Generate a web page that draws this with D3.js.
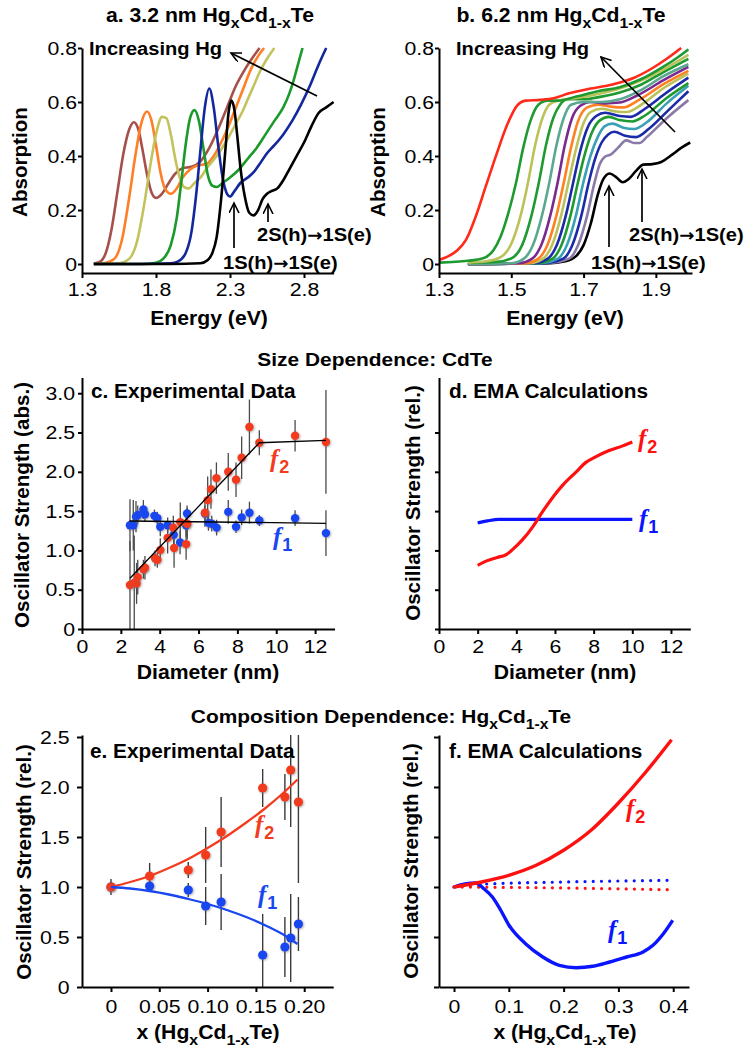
<!DOCTYPE html>
<html><head><meta charset="utf-8">
<script src="https://cdn.jsdelivr.net/npm/d3@7"></script>
<style>body{margin:0;background:#fff}</style>
</head><body><svg id="chart"></svg>
<script>
// ---------------- DATA ----------------
// Panel a: 3.2 nm HgxCd1-xTe absorption spectra [energy eV, absorption]
const aBrown=[[1.38,0.002],[1.42,0.008],[1.46,0.04],[1.50,0.13],[1.54,0.27],[1.58,0.41],[1.62,0.50],[1.65,0.525],[1.68,0.50],[1.71,0.42],[1.74,0.33],[1.77,0.265],[1.80,0.245],[1.84,0.26],[1.88,0.295],[1.93,0.335],[1.98,0.355],[2.04,0.36],[2.10,0.38],[2.16,0.43],[2.22,0.50],[2.28,0.58],[2.34,0.66],[2.40,0.72],[2.46,0.77],[2.50,0.80]];
const aOrange=[[1.38,0],[1.45,0.003],[1.52,0.02],[1.57,0.09],[1.62,0.25],[1.66,0.40],[1.70,0.52],[1.74,0.565],[1.77,0.53],[1.80,0.44],[1.83,0.34],[1.86,0.28],[1.90,0.26],[1.94,0.28],[1.98,0.32],[2.03,0.35],[2.08,0.365],[2.14,0.37],[2.19,0.40],[2.24,0.45],[2.29,0.51],[2.34,0.58],[2.39,0.65],[2.44,0.72],[2.49,0.77],[2.53,0.80]];
const aKhaki=[[1.38,0],[1.55,0.003],[1.62,0.02],[1.67,0.08],[1.72,0.22],[1.76,0.36],[1.80,0.48],[1.84,0.545],[1.87,0.54],[1.90,0.48],[1.93,0.39],[1.96,0.32],[1.99,0.285],[2.02,0.28],[2.06,0.30],[2.10,0.32],[2.15,0.36],[2.21,0.40],[2.27,0.45],[2.33,0.51],[2.38,0.56],[2.42,0.61],[2.46,0.66],[2.50,0.71],[2.55,0.76],[2.60,0.80]];
const aGreen=[[1.38,0],[1.70,0],[1.80,0.005],[1.85,0.02],[1.90,0.07],[1.94,0.17],[1.97,0.30],[2.00,0.44],[2.03,0.54],[2.06,0.57],[2.09,0.53],[2.12,0.43],[2.15,0.33],[2.18,0.29],[2.21,0.285],[2.25,0.30],[2.30,0.32],[2.36,0.35],[2.42,0.39],[2.48,0.43],[2.54,0.48],[2.60,0.53],[2.66,0.58],[2.70,0.63],[2.73,0.68],[2.76,0.74],[2.79,0.80]];
const aBlue=[[1.38,0],[1.70,0],[1.90,0.003],[1.95,0.01],[2.00,0.04],[2.04,0.12],[2.07,0.25],[2.10,0.42],[2.13,0.58],[2.16,0.65],[2.19,0.58],[2.22,0.44],[2.25,0.32],[2.28,0.26],[2.30,0.25],[2.33,0.27],[2.37,0.30],[2.42,0.32],[2.46,0.34],[2.50,0.37],[2.55,0.41],[2.60,0.44],[2.66,0.48],[2.72,0.53],[2.78,0.59],[2.84,0.66],[2.90,0.74],[2.95,0.80]];
const aBlack=[[1.38,0],[1.60,0],[1.90,0],[2.10,0.003],[2.15,0.015],[2.18,0.04],[2.21,0.10],[2.24,0.24],[2.27,0.43],[2.29,0.56],[2.31,0.605],[2.33,0.57],[2.35,0.47],[2.37,0.36],[2.40,0.25],[2.43,0.19],[2.46,0.18],[2.49,0.20],[2.52,0.24],[2.55,0.26],[2.58,0.27],[2.62,0.28],[2.66,0.31],[2.70,0.35],[2.75,0.40],[2.80,0.45],[2.85,0.51],[2.90,0.56],[2.95,0.58],[3.0,0.60]];
const aSeries=[aBrown,aOrange,aKhaki,aGreen,aBlue,aBlack];
const aColors=["#a5504a","#ff7f27","#c3c35e","#1a9a2a","#14289e","#000000"];
const aXTicks=[1.3,1.8,2.3,2.8];
const abYTicks=[0,0.2,0.4,0.6,0.8];

// Panel b: 6.2 nm HgxCd1-xTe absorption spectra
const bRed=[[1.30,0.015],[1.325,0.028],[1.35,0.05],[1.375,0.09],[1.40,0.17],[1.43,0.29],[1.46,0.41],[1.49,0.52],[1.515,0.585],[1.54,0.605],[1.58,0.608],[1.62,0.615],[1.66,0.632],[1.72,0.65],[1.78,0.665],[1.84,0.69],[1.89,0.725],[1.93,0.76],[1.97,0.80]];
const bGreen1=[[1.30,0.005],[1.38,0.012],[1.42,0.02],[1.45,0.05],[1.47,0.10],[1.49,0.18],[1.513,0.30],[1.533,0.43],[1.553,0.53],[1.575,0.59],[1.60,0.605],[1.63,0.605],[1.68,0.62],[1.74,0.64],[1.80,0.655],[1.86,0.685],[1.92,0.73],[1.96,0.765],[1.99,0.795]];
const bKhaki1=[[1.38,0.005],[1.43,0.01],[1.47,0.025],[1.50,0.075],[1.526,0.18],[1.546,0.30],[1.566,0.44],[1.586,0.54],[1.605,0.59],[1.63,0.605],[1.68,0.615],[1.74,0.63],[1.80,0.65],[1.86,0.68],[1.92,0.72],[1.99,0.775]];
const bGreen2=[[1.38,0.005],[1.46,0.008],[1.505,0.025],[1.53,0.07],[1.556,0.18],[1.576,0.30],[1.596,0.44],[1.616,0.54],[1.635,0.59],[1.655,0.61],[1.70,0.61],[1.75,0.62],[1.80,0.635],[1.86,0.665],[1.92,0.71],[1.99,0.76]];
const bSea=[[1.38,0],[1.50,0.003],[1.535,0.02],[1.56,0.07],[1.585,0.18],[1.605,0.30],[1.625,0.44],[1.645,0.54],[1.665,0.59],[1.70,0.60],[1.75,0.60],[1.80,0.61],[1.86,0.645],[1.92,0.695],[1.99,0.74]];
const bPurple=[[1.38,0],[1.52,0.003],[1.558,0.02],[1.583,0.07],[1.608,0.18],[1.628,0.30],[1.648,0.44],[1.668,0.54],[1.69,0.585],[1.72,0.60],[1.76,0.595],[1.80,0.598],[1.85,0.625],[1.92,0.68],[1.99,0.73]];
const bOrange=[[1.38,0],[1.54,0.003],[1.575,0.02],[1.60,0.07],[1.625,0.18],[1.645,0.30],[1.665,0.43],[1.685,0.53],[1.71,0.58],[1.74,0.59],[1.78,0.582],[1.81,0.58],[1.85,0.605],[1.92,0.665],[1.99,0.715]];
const bKhaki2=[[1.38,0],[1.55,0.003],[1.588,0.02],[1.613,0.07],[1.638,0.18],[1.658,0.30],[1.678,0.42],[1.698,0.515],[1.72,0.563],[1.75,0.575],[1.79,0.565],[1.82,0.563],[1.86,0.59],[1.92,0.65],[1.99,0.705]];
const bBlue1=[[1.38,0],[1.56,0.003],[1.601,0.02],[1.626,0.07],[1.651,0.18],[1.671,0.30],[1.691,0.42],[1.711,0.505],[1.735,0.548],[1.76,0.56],[1.80,0.548],[1.83,0.545],[1.87,0.575],[1.93,0.635],[1.99,0.69]];
const bGreen3=[[1.38,0],[1.57,0.003],[1.614,0.02],[1.639,0.07],[1.664,0.18],[1.684,0.30],[1.704,0.41],[1.724,0.49],[1.745,0.532],[1.77,0.545],[1.80,0.533],[1.835,0.528],[1.87,0.55],[1.93,0.615],[1.99,0.67]];
const bTeal=[[1.38,0],[1.58,0.003],[1.629,0.02],[1.654,0.07],[1.679,0.18],[1.699,0.30],[1.719,0.40],[1.739,0.47],[1.758,0.51],[1.78,0.52],[1.81,0.505],[1.84,0.50],[1.875,0.525],[1.93,0.595],[1.99,0.66]];
const bBlue2=[[1.38,0],[1.59,0.003],[1.644,0.02],[1.669,0.07],[1.694,0.18],[1.714,0.30],[1.732,0.39],[1.75,0.45],[1.768,0.48],[1.785,0.49],[1.815,0.475],[1.845,0.47],[1.88,0.50],[1.935,0.57],[1.99,0.64]];
const bLavender=[[1.38,0],[1.60,0.003],[1.66,0.02],[1.685,0.07],[1.71,0.18],[1.73,0.30],[1.745,0.37],[1.76,0.398],[1.775,0.405],[1.795,0.43],[1.818,0.458],[1.84,0.448],[1.855,0.448],[1.875,0.47],[1.93,0.54],[1.99,0.607]];
const bBlack=[[1.38,0],[1.60,0.002],[1.65,0.01],[1.68,0.03],[1.70,0.07],[1.72,0.15],[1.74,0.26],[1.755,0.315],[1.772,0.335],[1.79,0.322],[1.808,0.303],[1.825,0.315],[1.845,0.345],[1.865,0.368],[1.89,0.37],[1.915,0.378],[1.945,0.405],[1.97,0.43],[1.995,0.45]];
const bSeries=[bBlack,bLavender,bBlue2,bTeal,bGreen3,bBlue1,bKhaki2,bOrange,bPurple,bSea,bGreen2,bKhaki1,bGreen1,bRed];
const bColors=["#000000","#8a7aa8","#1a2aa8","#3aa0b8","#1f9a30","#1a2aa8","#bcc25a","#ff8020","#7a2a8e","#5aa890","#1f9a30","#bcc25a","#1f9a30","#ff2a1a"];
const bXTicks=[1.3,1.5,1.7,1.9];

// Panel c: experimental oscillator strength vs diameter
const cDiamF2=[2.47,2.69,2.81,2.87,3.16,3.24,3.76,3.88,4.03,4.41,4.70,4.74,5.06,5.36,5.42,6.33,6.47,6.64,6.92,7.53,7.93,8.22,8.62,9.13,10.97,12.56];
const cF2=[0.56,0.59,0.58,0.66,0.76,0.78,0.90,0.88,1.005,1.16,1.29,1.03,1.36,1.08,1.34,1.48,1.64,1.78,1.92,2.00,1.90,2.18,2.57,2.37,2.46,2.38];
const cF2Err=[0.56,0.6,0.26,0.22,0.12,0.15,0.1,0.1,0.15,0.2,0.15,0.25,0.25,0.2,0.2,0.18,0.3,0.25,0.2,0.24,0.22,0.27,0.35,0.16,0.2,0.66];
const cDiamF1=[2.47,2.64,2.78,2.87,3.16,3.24,3.73,3.88,4.03,4.41,4.72,5.05,5.36,5.41,6.33,6.51,6.68,6.93,7.53,7.93,8.22,8.62,9.13,10.97,12.56];
const cF1=[1.32,1.32,1.43,1.45,1.52,1.46,1.44,1.41,1.30,1.32,1.20,1.10,1.32,1.47,1.47,1.35,1.34,1.29,1.49,1.30,1.42,1.48,1.38,1.41,1.22];
const cF1Err=[0.33,0.32,0.2,0.12,0.12,0.1,0.08,0.08,0.12,0.1,0.15,0.15,0.15,0.1,0.1,0.1,0.1,0.1,0.15,0.08,0.1,0.14,0.07,0.1,0.29];
const cFitF2=[[2.47,0.645],[9.13,2.37],[12.56,2.40]];
const cFitF1=[[2.44,1.374],[12.56,1.345]];
const cdXTicks=[0,2,4,6,8,10,12];
const cYTicks=[0,0.5,1.0,1.5,2.0,2.5,3.0];
const dYTicks=[0,0.5,1.0,1.5,2.0,2.5];

// Panel d: EMA calculation vs diameter
const dF2=[[2,0.81],[2.5,0.87],[3,0.91],[3.5,0.95],[3.8,1.01],[4.3,1.13],[4.85,1.30],[5.35,1.49],[5.9,1.68],[6.4,1.83],[7.1,2.00],[7.6,2.12],[8.1,2.19],[8.8,2.27],[9.5,2.33],[10,2.38]];
const dF1=[[2,1.35],[2.5,1.375],[3.1,1.395],[4,1.395],[6,1.395],[8,1.395],[10,1.395]];

// Panel e: experimental vs composition
const eX=[0,0.04,0.08,0.098,0.114,0.157,0.180,0.186,0.194];
const eF2=[1.0,1.11,1.17,1.32,1.55,1.99,1.90,2.17,1.85];
const eF2Err=[0.08,0.13,0.08,0.28,0.35,0.19,0.23,0.57,0.81];
const eF1=[1.0,1.01,0.97,0.81,0.85,0.32,0.40,0.49,0.63];
const eF1Err=[0.05,0.06,0.07,0.19,0.28,0.41,0.30,0.44,0.27];
const eFitX=[0,0.02,0.04,0.06,0.08,0.10,0.12,0.14,0.16,0.18,0.193];
const eFitF2=[1.00,1.05,1.11,1.19,1.28,1.39,1.51,1.645,1.79,1.955,2.075];
const eFitF1=[1.0,0.985,0.96,0.925,0.88,0.83,0.77,0.70,0.615,0.515,0.43];
const eXTicks=[0,0.05,0.10,0.15,0.20];
const efYTicks=[0,0.5,1.0,1.5,2.0,2.5];

// Panel f: EMA calculation vs composition
const fF2=[[0,1.0],[0.05,1.05],[0.1,1.117],[0.15,1.217],[0.2,1.367],[0.25,1.567],[0.3,1.84],[0.35,2.15],[0.397,2.473]];
const fF1=[[0,1.0],[0.02,1.03],[0.04,1.04],[0.055,0.98],[0.07,0.90],[0.085,0.77],[0.1,0.62],[0.131,0.43],[0.162,0.30],[0.192,0.217],[0.223,0.193],[0.253,0.207],[0.284,0.25],[0.315,0.30],[0.345,0.35],[0.363,0.417],[0.382,0.533],[0.399,0.667]];
const fF1dot=[[0,1.0],[0.05,1.027],[0.2,1.05],[0.4,1.067]];
const fF2dot=[[0,1.0],[0.2,0.99],[0.4,0.972]];
const fXTicks=[0,0.1,0.2,0.3,0.4];

// ---------------- DRAWING ----------------
const FONT='"Liberation Sans", Arial, Helvetica, sans-serif';
const SERIF='"Liberation Serif","Times New Roman",serif';
const RED="#f23b1f", BLUE="#1846f0";
const svg=d3.select("#chart").attr("width",753).attr("height",1050);
const defs=svg.append("defs");
defs.append("marker").attr("id","arr").attr("markerUnits","userSpaceOnUse")
  .attr("markerWidth",14).attr("markerHeight",14).attr("refX",10).attr("refY",5).attr("orient","auto")
  .append("path").attr("d","M0,0 L10,5 L0,10").attr("fill","none").attr("stroke","#000").attr("stroke-width",1.6);
const sh=defs.append("filter").attr("id","shadow").attr("x","-50%").attr("y","-50%").attr("width","200%").attr("height","200%");
sh.append("feDropShadow").attr("dx",0.8).attr("dy",0.8).attr("stdDeviation",0.9).attr("flood-color","#666").attr("flood-opacity",0.6);

function clip(id,x,y,w,h){defs.append("clipPath").attr("id",id).append("rect").attr("x",x).attr("y",y).attr("width",w).attr("height",h);}

function styleAxis(g,sx){
  g.attr("font-size",null).attr("font-family",null);
  g.select("path.domain").attr("stroke","#000").attr("stroke-width",2);
  g.selectAll(".tick line").attr("stroke","#000").attr("stroke-width",2);
  g.selectAll(".tick text").attr("font-family",FONT).attr("font-size",19).attr("fill","#000").attr("transform",`scale(${sx||1.12},1)`);
}
function fmt1(d){return d===0?"0":d.toFixed(1);}
function fmt2(d){return d===0?"0":d.toFixed(2);}

function drawAxes(x,y,xTicks,xFmt,yTicks,yFmt,o){
  const gx=svg.append("g").attr("transform",`translate(0,${y.range()[0]})`)
    .call(d3.axisBottom(x).tickValues(xTicks).tickFormat(xFmt).tickSize(5).tickSizeOuter(0).tickPadding(o.xPad));
  styleAxis(gx);
  const gy=svg.append("g").attr("transform",`translate(${x.range()[0]},0)`)
    .call(d3.axisLeft(y).tickValues(yTicks).tickFormat(yFmt).tickSize(o.yTick||4).tickSizeOuter(0).tickPadding(o.yPad));
  styleAxis(gy);
}

// text helper (supports subscripts and an arrow glyph part)
function label(x,y,parts,o={}){
  const size=o.size||20, sx=o.sx||1.06;
  const tr=o.rot?`translate(${x},${y}) rotate(${o.rot})`:`translate(${x},${y}) scale(${sx},1)`;
  const t=svg.append("text").attr("transform",tr).attr("text-anchor",o.anchor||"start")
    .attr("font-family",FONT).attr("font-size",size).attr("font-weight",o.weight||"bold").attr("fill",o.fill||"#000");
  if(typeof parts==="string"){t.text(parts);return t;}
  let cur=0;
  parts.forEach(([s,sub])=>{
    if(sub===2){ // arrow glyph
      t.append("tspan").attr("dy",-cur).attr("font-family",'"DejaVu Sans",sans-serif').attr("font-size",size*0.9).text(s);
      cur=0; return;
    }
    const target=sub?size*0.3:0;
    t.append("tspan").attr("dy",target-cur).attr("font-size",sub?size*0.75:size).text(s);
    cur=target;
  });
  return t;
}
function fLabel(x,y,n,color){
  const t=svg.append("text").attr("x",x).attr("y",y).attr("fill",color).attr("font-weight","bold");
  t.append("tspan").attr("font-family",SERIF).attr("font-style","italic").attr("font-size",25).text("f");
  t.append("tspan").attr("font-family",FONT).attr("font-size",18).attr("dy",6).attr("dx",1).text(n);
}
function arrow(x1,y1,x2,y2){
  svg.append("line").attr("x1",x1).attr("y1",y1).attr("x2",x2).attr("y2",y2)
    .attr("stroke","#000").attr("stroke-width",1.7).attr("marker-end","url(#arr)");
}
const trans2S=[["2S(h)",0],["\u2192",2],["1S(e)",0]];
const trans1S=[["1S(h)",0],["\u2192",2],["1S(e)",0]];

// ===== Panel a =====
{
  const x=d3.scaleLinear().domain([1.3,3.0]).range([82,333.6]);
  const y=d3.scaleLinear().domain([-0.0333,0.8]).range([273,48]);
  clip("clipA",82,47,252,226);
  const line=d3.line().x(d=>x(d[0])).y(d=>y(d[1])).curve(d3.curveMonotoneX);
  const g=svg.append("g").attr("clip-path","url(#clipA)");
  aSeries.forEach((s,i)=>g.append("path").attr("d",line(s)).attr("fill","none")
    .attr("stroke",aColors[i]).attr("stroke-width",2.6).attr("stroke-linejoin","round"));
  drawAxes(x,y,aXTicks,fmt1,abYTicks,d=>d===0?"0":d.toFixed(1),{xPad:5,yPad:0.5});
  label(210,22,[["a. 3.2 nm Hg",0],["x",1],["Cd",0],["1-x",1],["Te",0]],{anchor:"middle"});
  label(209,325,"Energy (eV)",{anchor:"middle"});
  label(27,162,"Absorption",{anchor:"middle",rot:-90,size:20.6});
  label(89,55,"Increasing Hg",{size:19});
  arrow(317,96,231,53);
  label(257,241,trans2S,{size:19});
  label(223,269,trans1S,{size:19});
  arrow(234,248,234,203);
  arrow(268,222,268,204);
}
// ===== Panel b =====
{
  const x=d3.scaleLinear().domain([1.3,2.0]).range([439,692]);
  const y=d3.scaleLinear().domain([-0.0333,0.8]).range([273,48]);
  clip("clipB",439,47,253,226);
  const line=d3.line().x(d=>x(d[0])).y(d=>y(d[1])).curve(d3.curveMonotoneX);
  const g=svg.append("g").attr("clip-path","url(#clipB)");
  bSeries.forEach((s,i)=>g.append("path").attr("d",line(s)).attr("fill","none")
    .attr("stroke",bColors[i]).attr("stroke-width",2.6).attr("stroke-linejoin","round"));
  drawAxes(x,y,bXTicks,fmt1,abYTicks,d=>d===0?"0":d.toFixed(1),{xPad:5,yPad:0.5});
  label(561,22,[["b. 6.2 nm Hg",0],["x",1],["Cd",0],["1-x",1],["Te",0]],{anchor:"middle"});
  label(565,325,"Energy (eV)",{anchor:"middle"});
  label(385,162,"Absorption",{anchor:"middle",rot:-90,size:20.6});
  label(456,55,"Increasing Hg",{size:19});
  arrow(675,132,601,57);
  label(629,241,trans2S,{size:19});
  label(591,269,trans1S,{size:19});
  arrow(609,247,609,186);
  arrow(642,222,642,169);
}
// section titles
label(375,366,"Size Dependence: CdTe",{anchor:"middle",size:19,sx:1.1});
label(381,723,[["Composition Dependence: Hg",0],["x",1],["Cd",0],["1-x",1],["Te",0]],{anchor:"middle",size:19,sx:1.1});

// ===== Panel c =====
{
  const x=d3.scaleLinear().domain([0,13]).range([82,334.5]);
  const y=d3.scaleLinear().domain([0,3.2]).range([629,377.5]);
  clip("clipC",82,377,253,252);
  const g=svg.append("g").attr("clip-path","url(#clipC)");
  const bars=(xs,vs,es)=>xs.forEach((d,i)=>g.append("line").attr("x1",x(d)).attr("x2",x(d))
    .attr("y1",y(Math.max(0,vs[i]-es[i]))).attr("y2",y(vs[i]+es[i])).attr("stroke","#4a4a4a").attr("stroke-width",1.3));
  bars(cDiamF1,cF1,cF1Err); bars(cDiamF2,cF2,cF2Err);
  cDiamF1.forEach((d,i)=>g.append("circle").attr("cx",x(d)).attr("cy",y(cF1[i])).attr("r",4.2).attr("fill",BLUE).attr("filter","url(#shadow)"));
  cDiamF2.forEach((d,i)=>g.append("circle").attr("cx",x(d)).attr("cy",y(cF2[i])).attr("r",4.2).attr("fill",RED).attr("filter","url(#shadow)"));
  const line=d3.line().x(d=>x(d[0])).y(d=>y(d[1]));
  g.append("path").attr("d",line(cFitF2)).attr("fill","none").attr("stroke","#000").attr("stroke-width",1.3);
  g.append("path").attr("d",line(cFitF1)).attr("fill","none").attr("stroke","#000").attr("stroke-width",1.3);
  drawAxes(x,y,cdXTicks,d=>String(d),cYTicks,fmt1,{xPad:6,yPad:2.2,yTick:4});
  label(91,398,"c. Experimental Data",{sx:1.04});
  label(208,679,"Diameter (nm)",{anchor:"middle"});
  label(29,505,"Oscillator Strength (abs.)",{anchor:"middle",rot:-90,size:20.6});
  fLabel(270,467,"2",RED);
  fLabel(273,545,"1",BLUE);
}
// ===== Panel d =====
{
  const x=d3.scaleLinear().domain([0,13]).range([439,690.3]);
  const y=d3.scaleLinear().domain([0,3.2]).range([629,377.5]);
  const line=d3.line().x(d=>x(d[0])).y(d=>y(d[1])).curve(d3.curveMonotoneX);
  svg.append("path").attr("d",line(dF1)).attr("fill","none").attr("stroke","#0a14ff").attr("stroke-width",3.2);
  svg.append("path").attr("d",line(dF2)).attr("fill","none").attr("stroke","#ff1010").attr("stroke-width",3.2);
  drawAxes(x,y,cdXTicks,d=>String(d),dYTicks,()=>"",{xPad:6,yPad:2,yTick:4});
  label(449,398,"d. EMA Calculations",{sx:1.04});
  label(565,679,"Diameter (nm)",{anchor:"middle"});
  label(420,503,"Oscillator Strength (rel.)",{anchor:"middle",rot:-90,size:20.6});
  fLabel(638,447,"2","#ff1010");
  fLabel(639,527,"1","#0a14ff");
}
// ===== Panel e =====
{
  const x=d3.scaleLinear().domain([-0.03,0.23]).range([82,333.2]);
  const y=d3.scaleLinear().domain([0,2.52]).range([987,735]);
  clip("clipE",82,735,252,252);
  const g=svg.append("g").attr("clip-path","url(#clipE)");
  const bars=(xs,vs,es)=>xs.forEach((d,i)=>g.append("line").attr("x1",x(d)).attr("x2",x(d))
    .attr("y1",y(Math.max(0,vs[i]-es[i]))).attr("y2",y(vs[i]+es[i])).attr("stroke","#3a3a3a").attr("stroke-width",1.4));
  bars(eX,eF1,eF1Err); bars(eX,eF2,eF2Err);
  eX.forEach((d,i)=>g.append("circle").attr("cx",x(d)).attr("cy",y(eF1[i])).attr("r",4.6).attr("fill",BLUE).attr("filter","url(#shadow)"));
  eX.forEach((d,i)=>g.append("circle").attr("cx",x(d)).attr("cy",y(eF2[i])).attr("r",4.6).attr("fill",RED).attr("filter","url(#shadow)"));
  const line=d3.line().x((d,i)=>x(eFitX[i])).y(d=>y(d)).curve(d3.curveMonotoneX);
  g.append("path").attr("d",line(eFitF2)).attr("fill","none").attr("stroke",RED).attr("stroke-width",2.3);
  g.append("path").attr("d",line(eFitF1)).attr("fill","none").attr("stroke",BLUE).attr("stroke-width",2.3);
  drawAxes(x,y,eXTicks,fmt2,efYTicks,fmt1,{xPad:8,yPad:6,yTick:5});
  label(90,758,"e. Experimental Data",{sx:1.04});
  label(208,1039,[["x (Hg",0],["x",1],["Cd",0],["1-x",1],["Te)",0]],{anchor:"middle"});
  label(31,862,"Oscillator Strength (rel.)",{anchor:"middle",rot:-90,size:20.6});
  fLabel(255,833,"2",RED);
  fLabel(258,903,"1",BLUE);
}
// ===== Panel f =====
{
  const x=d3.scaleLinear().domain([-0.0274,0.4288]).range([439,689]);
  const y=d3.scaleLinear().domain([0,2.52]).range([987,735]);
  const line=d3.line().x(d=>x(d[0])).y(d=>y(d[1])).curve(d3.curveMonotoneX);
  svg.append("path").attr("d",line(fF1dot)).attr("fill","none").attr("stroke","#0a14ff").attr("stroke-width",3.2)
    .attr("stroke-dasharray","0 8.2").attr("stroke-linecap","round");
  svg.append("path").attr("d",line(fF2dot)).attr("fill","none").attr("stroke","#ff1010").attr("stroke-width",3.2)
    .attr("stroke-dasharray","0 8.2").attr("stroke-linecap","round");
  svg.append("path").attr("d",line(fF1)).attr("fill","none").attr("stroke","#0a14ff").attr("stroke-width",3.4);
  svg.append("path").attr("d",line(fF2)).attr("fill","none").attr("stroke","#ff1010").attr("stroke-width",3.4);
  drawAxes(x,y,fXTicks,fmt1,efYTicks,()=>"",{xPad:8,yPad:2,yTick:5});
  label(449,758,"f. EMA Calculations",{sx:1.04});
  label(565,1039,[["x (Hg",0],["x",1],["Cd",0],["1-x",1],["Te)",0]],{anchor:"middle"});
  label(418,861,"Oscillator Strength (rel.)",{anchor:"middle",rot:-90,size:20.6});
  fLabel(626,817,"2","#ff1010");
  fLabel(608,938,"1","#0a14ff");
}
</script></body></html>
